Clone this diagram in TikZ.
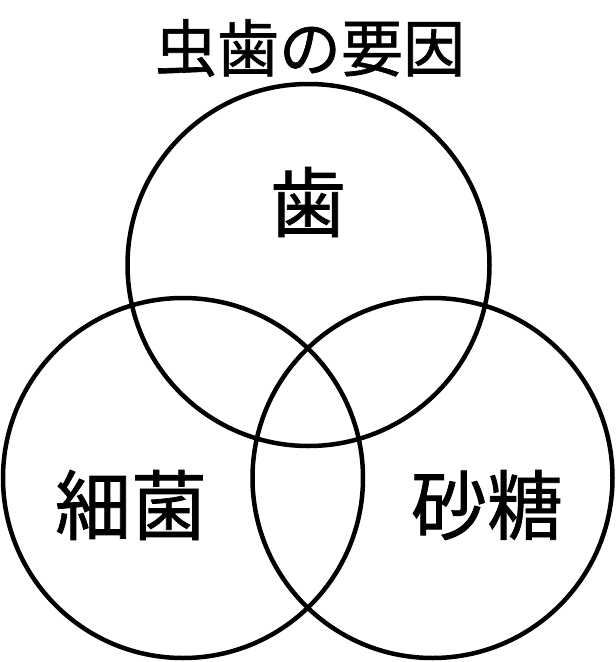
\documentclass[tikz,border=0pt]{standalone}
\usepackage{fontspec}
\newfontfamily\cjk[FakeBold=1]{Noto Sans CJK JP}
\begin{document}
\begin{tikzpicture}[x=1pt,y=-1pt,
  ring/.style={draw=black,line width=4.5pt},
  lbl/.style={font=\cjk\fontsize{76}{80}\selectfont,inner sep=0pt},
  ttl/.style={font=\cjk\fontsize{62}{66}\selectfont,inner sep=0pt}]
\useasboundingbox (0,0) rectangle (616,662);
\node[ring,circle,minimum size=362pt,inner sep=0pt] (tooth) at (308.5,265) {};
\node[ring,circle,minimum size=360pt,inner sep=0pt] (bact) at (183,478) {};
\node[ring,circle,minimum size=360pt,inner sep=0pt] (sugar) at (432.5,478) {};
\node[ttl] (title) at (310,48) {虫歯の要因};
\node[lbl] (t1) at (308,202) {歯};
\node[lbl] (t2) at (131,505) {細菌};
\node[lbl] (t3) at (487,505) {砂糖};
\end{tikzpicture}
\end{document}
